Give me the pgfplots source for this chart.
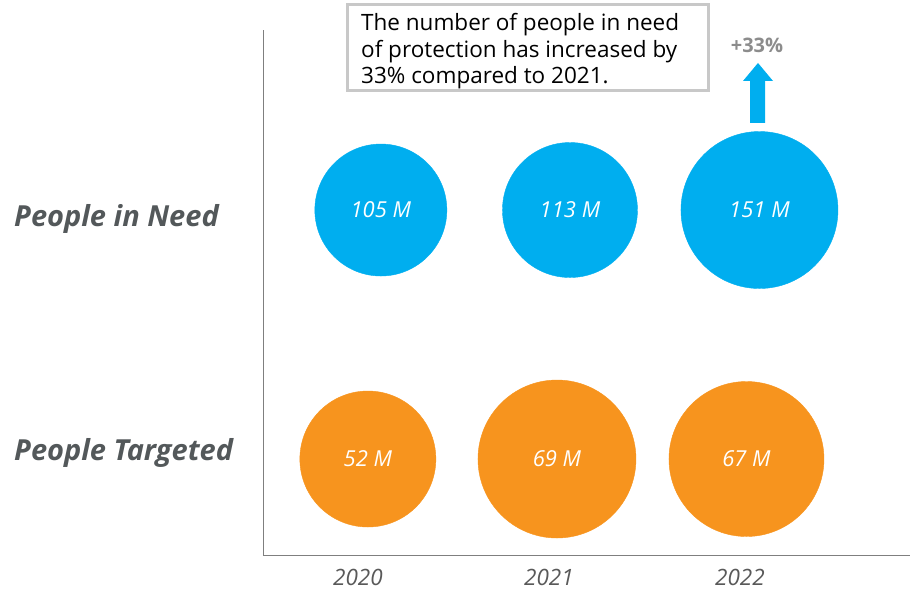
\documentclass[border=0pt]{standalone}
\usepackage{pgfplots}
\pgfplotsset{compat=1.18}
\usepackage{pgfplotstable}
\usepackage{fontspec}
\setmainfont{Open Sans}
\definecolor{cblue}{HTML}{00AEEF}
\definecolor{corange}{HTML}{F7941E}
\definecolor{lblgray}{HTML}{53585A}
\definecolor{yeargray}{HTML}{595959}
\definecolor{pctgray}{HTML}{8C8C8C}
\definecolor{boxgray}{HTML}{C8C8C8}
\definecolor{axgray}{HTML}{7F7F7F}

\pgfplotstableread{
x y r v
0.120 2 66 105
1.110 2 67.5 113
2.102 2 78.5 151
}\need
\pgfplotstableread{
x y r v
0.052 1 68 52
1.042 1 79 69
2.034 1 77.5 67
}\targeted

\begin{document}
\begin{tikzpicture}
\path[use as bounding box] (-263pt,-37pt) rectangle (648pt,555pt);
\begin{axis}[
  at={(0pt,0pt)}, anchor=south west, scale only axis,
  width=647pt, height=525pt,
  xmin=-0.497, xmax=2.890, ymin=0.6145, ymax=2.723,
  axis x line=bottom, axis y line=left,
  axis line style={-, draw=axgray, line width=0.8pt},
  xtick={0,1,2}, xticklabels={2020,2021,2022},
  ytick={0.996,1.932}, yticklabels={People Targeted, People in Need},
  major tick length=0pt,
  xticklabel style={anchor=base, yshift=-30pt, inner sep=0pt, text=yeargray, font=\itshape\fontsize{22.5}{22.5}\selectfont},
  yticklabel style={anchor=base west, xshift=-249pt, inner sep=0pt, text=lblgray, font=\bfseries\itshape\fontsize{29}{29}\selectfont},
  clip=false,
]
\addplot[scatter, only marks, mark=*, scatter src=explicit,
  scatter/use mapped color={draw=cblue, fill=cblue},
  visualization depends on={\thisrow{r} \as \perpointmarksize},
  scatter/@pre marker code/.append style={/tikz/mark size=\perpointmarksize}]
  table[x=x,y=y,meta=v] {\need};
\addplot[scatter, only marks, mark=*, scatter src=explicit,
  scatter/use mapped color={draw=corange, fill=corange},
  visualization depends on={\thisrow{r} \as \perpointmarksize},
  scatter/@pre marker code/.append style={/tikz/mark size=\perpointmarksize}]
  table[x=x,y=y,meta=v] {\targeted};
\addplot[only marks, mark=none, point meta=explicit symbolic,
  nodes near coords={\pgfplotspointmeta~M}, nodes near coords align={center},
  every node near coord/.append style={anchor=center, text=white, font=\itshape\fontsize{22}{22}\selectfont}]
  table[x=x,y=y,meta=v] {\need};
\addplot[only marks, mark=none, point meta=explicit symbolic,
  nodes near coords={\pgfplotspointmeta~M}, nodes near coords align={center},
  every node near coord/.append style={anchor=center, text=white, font=\itshape\fontsize{22}{22}\selectfont}]
  table[x=x,y=y,meta=v] {\targeted};
\end{axis}
% annotation box
\draw[boxgray, line width=3pt] (84.5pt,550.5pt) rectangle (445.5pt,464.5pt);
\begin{scope}[every node/.style={anchor=base west, inner sep=0pt, font=\fontsize{22.5}{22.5}\selectfont, text=black}]
\node at (98pt,524pt) {The number of people in need};
\node at (98pt,497.5pt) {of protection has increased by};
\node at (98pt,471pt) {33\% compared to 2021.};
\end{scope}
\node[anchor=base, inner sep=0pt, text=pctgray, font=\bfseries\fontsize{20}{20}\selectfont] at (494pt,502pt) {+33\%};
\fill[cblue] (495pt,492pt) -- (510pt,474pt) -- (502pt,474pt) -- (502pt,432pt) -- (487pt,432pt) -- (487pt,474pt) -- (480pt,474pt) -- cycle;
\end{tikzpicture}
\end{document}
